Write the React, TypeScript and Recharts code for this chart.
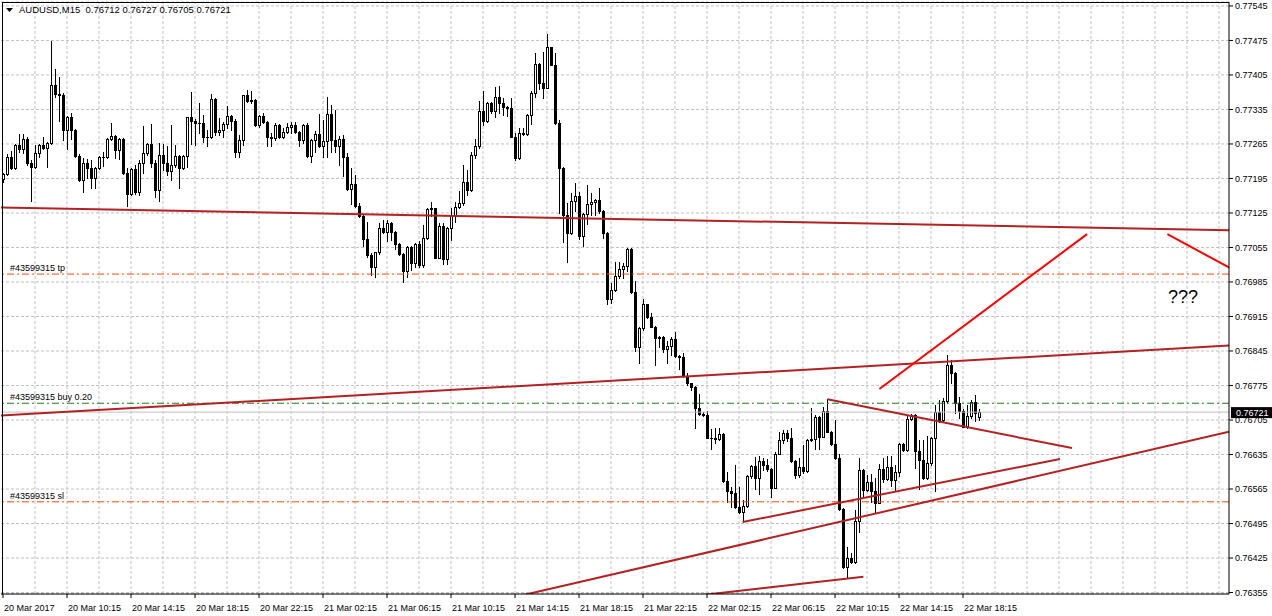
import React from "react";
import {
  ComposedChart,
  Bar,
  XAxis,
  YAxis,
  CartesianGrid,
  ReferenceLine,
  ReferenceDot,
} from "recharts";

const FONT = '"Liberation Sans", Arial, sans-serif';

// AUDUSD M15, one value per bar, from 20 Mar 06:15 to 22 Mar 19:15
const opens = [
  0.77193, 0.77204, 0.77238, 0.77216, 0.77263, 0.77255, 0.77275, 0.77226, 0.77219, 0.77246,
  0.77262, 0.77256, 0.77266, 0.77385, 0.77366, 0.77365, 0.77293, 0.7732, 0.77293, 0.77241,
  0.77192, 0.77226, 0.77216, 0.77195, 0.77216, 0.77238, 0.77239, 0.77275, 0.77281, 0.77253,
  0.77275, 0.77206, 0.77164, 0.77214, 0.77167, 0.77226, 0.77246, 0.77265, 0.77227, 0.77172,
  0.77243, 0.77226, 0.77211, 0.77222, 0.77241, 0.77216, 0.77241, 0.77319, 0.77312, 0.77308,
  0.77307, 0.7728, 0.77279, 0.77356, 0.77289, 0.77293, 0.77306, 0.77322, 0.77312, 0.77249,
  0.77273, 0.77364, 0.77353, 0.77355, 0.77304, 0.77322, 0.7731, 0.7728, 0.77277, 0.77304,
  0.77279, 0.7729, 0.773, 0.77304, 0.7729, 0.77273, 0.77304, 0.77241, 0.77273, 0.77285,
  0.7726, 0.7727, 0.77325, 0.77273, 0.7726, 0.77275, 0.77239, 0.77173, 0.77184, 0.7714,
  0.77119, 0.77072, 0.7704, 0.77015, 0.77045, 0.77094, 0.77087, 0.77105, 0.77087, 0.77062,
  0.77042, 0.77008, 0.77055, 0.77024, 0.77062, 0.7702, 0.77074, 0.77133, 0.77135, 0.77034,
  0.77099, 0.77031, 0.77094, 0.77121, 0.77137, 0.77145, 0.77187, 0.77172, 0.77243, 0.7726,
  0.77332, 0.77312, 0.77348, 0.77332, 0.77361, 0.77349, 0.77339, 0.77337, 0.7728, 0.77237,
  0.77287, 0.77286, 0.77324, 0.77368, 0.77427, 0.77389, 0.77379, 0.77461, 0.77426, 0.77307,
  0.77217, 0.77121, 0.77084, 0.77149, 0.7716, 0.77078, 0.77122, 0.77143, 0.77148, 0.77152,
  0.7713, 0.77085, 0.7695, 0.76969, 0.76997, 0.77011, 0.77018, 0.77051, 0.76965, 0.76854,
  0.76891, 0.7694, 0.76913, 0.76894, 0.76871, 0.76873, 0.76849, 0.76855, 0.76869, 0.76834,
  0.76832, 0.76794, 0.7678, 0.76771, 0.76729, 0.76717, 0.76716, 0.76669, 0.76668, 0.76667,
  0.76677, 0.76582, 0.7656, 0.76557, 0.76528, 0.76518, 0.7653, 0.76591, 0.76612, 0.76587,
  0.76622, 0.76614, 0.76605, 0.76568, 0.76637, 0.76664, 0.76678, 0.76668, 0.76622, 0.76593,
  0.76609, 0.76602, 0.76664, 0.76667, 0.76712, 0.76671, 0.76723, 0.76681, 0.76656, 0.76627,
  0.76524, 0.76407, 0.76426, 0.76416, 0.76501, 0.76604, 0.76563, 0.76579, 0.76561, 0.76537,
  0.76606, 0.76585, 0.7661, 0.76583, 0.766, 0.76656, 0.76644, 0.76707, 0.76715, 0.76643,
  0.76624, 0.76587, 0.76618, 0.76668, 0.76722, 0.76705, 0.76743, 0.76817, 0.768, 0.76739,
  0.76724, 0.76691, 0.76713, 0.76742, 0.76712,
];

const highs = [
  0.77206, 0.77245, 0.77251, 0.77265, 0.77285, 0.77285, 0.77279, 0.77233, 0.77262, 0.77265,
  0.77279, 0.77268, 0.77473, 0.77417, 0.774, 0.77368, 0.77322, 0.77327, 0.77295, 0.77245,
  0.77236, 0.77234, 0.77233, 0.77218, 0.77241, 0.77249, 0.77278, 0.77308, 0.77283, 0.77277,
  0.77277, 0.77216, 0.77216, 0.77222, 0.77233, 0.77302, 0.77267, 0.77306, 0.77233, 0.77266,
  0.77265, 0.7726, 0.77304, 0.77263, 0.77243, 0.77243, 0.7732, 0.7737, 0.77316, 0.77348,
  0.77324, 0.77293, 0.77366, 0.77358, 0.77317, 0.77309, 0.77341, 0.77324, 0.77316, 0.77283,
  0.77365, 0.77375, 0.77373, 0.77357, 0.77324, 0.77327, 0.77312, 0.77288, 0.77307, 0.77306,
  0.77297, 0.77307, 0.77309, 0.77309, 0.77291, 0.77305, 0.77308, 0.77275, 0.77291, 0.77325,
  0.77314, 0.77361, 0.77344, 0.77334, 0.77281, 0.77283, 0.77246, 0.77216, 0.77202, 0.77145,
  0.77121, 0.77107, 0.77043, 0.77046, 0.77104, 0.77111, 0.77111, 0.77106, 0.77089, 0.77065,
  0.77044, 0.77057, 0.77057, 0.77064, 0.77068, 0.77101, 0.77135, 0.77148, 0.77136, 0.77104,
  0.77105, 0.77096, 0.77135, 0.77148, 0.7717, 0.77222, 0.77212, 0.77249, 0.77275, 0.77352,
  0.77373, 0.77351, 0.7735, 0.7738, 0.77383, 0.77358, 0.77342, 0.77358, 0.77287, 0.77297,
  0.77297, 0.77325, 0.77373, 0.77449, 0.77429, 0.77452, 0.77488, 0.77462, 0.77449, 0.77314,
  0.77219, 0.77145, 0.77166, 0.77185, 0.77168, 0.77124, 0.77182, 0.77165, 0.77153, 0.77175,
  0.77132, 0.77087, 0.76982, 0.77026, 0.77026, 0.77024, 0.77053, 0.77053, 0.76987, 0.76893,
  0.7695, 0.76941, 0.76923, 0.76896, 0.76875, 0.76875, 0.76866, 0.76873, 0.76884, 0.76836,
  0.7684, 0.76801, 0.76781, 0.76773, 0.76758, 0.76722, 0.76723, 0.76686, 0.76688, 0.76688,
  0.76678, 0.76599, 0.7657, 0.76614, 0.7657, 0.76543, 0.76593, 0.76614, 0.76629, 0.76631,
  0.76627, 0.76625, 0.76607, 0.76641, 0.76681, 0.76685, 0.76685, 0.76688, 0.76624, 0.76627,
  0.76654, 0.76666, 0.76729, 0.76715, 0.76714, 0.76732, 0.76747, 0.76683, 0.76705, 0.76637,
  0.76526, 0.76447, 0.76435, 0.76522, 0.76627, 0.76606, 0.76593, 0.76596, 0.76587, 0.76615,
  0.76627, 0.76631, 0.76631, 0.76614, 0.76659, 0.76658, 0.76715, 0.76717, 0.76717, 0.76664,
  0.76664, 0.76673, 0.76671, 0.76736, 0.76745, 0.76749, 0.76836, 0.76827, 0.76802, 0.76752,
  0.76727, 0.76735, 0.76746, 0.76756, 0.76727,
];

const lows = [
  0.77187, 0.77202, 0.77214, 0.77214, 0.77249, 0.77247, 0.77222, 0.7715, 0.77216, 0.77239,
  0.77255, 0.77219, 0.77265, 0.77361, 0.77312, 0.77273, 0.77254, 0.77275, 0.77239, 0.77189,
  0.77168, 0.77195, 0.77176, 0.77175, 0.77214, 0.7722, 0.77236, 0.77273, 0.77236, 0.77234,
  0.77204, 0.77139, 0.77162, 0.77164, 0.77162, 0.77206, 0.77243, 0.77219, 0.77158, 0.7715,
  0.77212, 0.77202, 0.77192, 0.77219, 0.77175, 0.77214, 0.77219, 0.77265, 0.77262, 0.77287,
  0.77268, 0.7726, 0.77277, 0.77283, 0.77283, 0.7728, 0.77297, 0.77293, 0.77239, 0.77239,
  0.77262, 0.77351, 0.77349, 0.77302, 0.773, 0.77307, 0.7726, 0.7726, 0.77273, 0.77277,
  0.77277, 0.77287, 0.77287, 0.77288, 0.7726, 0.77266, 0.77239, 0.77229, 0.77249, 0.77258,
  0.77239, 0.77239, 0.77249, 0.77249, 0.77222, 0.772, 0.77171, 0.77143, 0.77138, 0.77117,
  0.77058, 0.77036, 0.76999, 0.76996, 0.77042, 0.77084, 0.77069, 0.7707, 0.77051, 0.7704,
  0.76984, 0.76996, 0.77009, 0.77016, 0.77015, 0.77015, 0.77072, 0.77119, 0.77033, 0.77033,
  0.77021, 0.77022, 0.7707, 0.77107, 0.77135, 0.77141, 0.77162, 0.7717, 0.77236, 0.77256,
  0.77304, 0.7731, 0.77327, 0.77319, 0.77327, 0.77324, 0.77322, 0.77279, 0.77233, 0.77235,
  0.77283, 0.77283, 0.77305, 0.77361, 0.77376, 0.77359, 0.77378, 0.77425, 0.77306, 0.77124,
  0.77067, 0.77026, 0.77082, 0.7713, 0.77072, 0.77058, 0.77103, 0.77121, 0.77121, 0.77124,
  0.77074, 0.7694, 0.76943, 0.76967, 0.76993, 0.76993, 0.77008, 0.76962, 0.76844, 0.7682,
  0.76888, 0.76911, 0.76893, 0.76817, 0.76854, 0.76842, 0.76821, 0.76837, 0.76832, 0.76808,
  0.76793, 0.76776, 0.76765, 0.76688, 0.76715, 0.76713, 0.76668, 0.76646, 0.76658, 0.76665,
  0.7658, 0.76539, 0.76528, 0.76526, 0.76516, 0.76499, 0.76528, 0.76587, 0.76566, 0.76555,
  0.76604, 0.76602, 0.76549, 0.76567, 0.76636, 0.76658, 0.76663, 0.7662, 0.76587, 0.7659,
  0.76598, 0.766, 0.76663, 0.76646, 0.76646, 0.7667, 0.7668, 0.76654, 0.76625, 0.76522,
  0.76404, 0.76386, 0.76414, 0.76414, 0.76478, 0.76546, 0.76561, 0.76539, 0.76517, 0.76536,
  0.7658, 0.76583, 0.76572, 0.7656, 0.76592, 0.76643, 0.76643, 0.76704, 0.76607, 0.76566,
  0.76585, 0.76585, 0.76614, 0.7656, 0.767, 0.767, 0.7674, 0.7678, 0.76719, 0.76709,
  0.7669, 0.76689, 0.76709, 0.76702, 0.76705,
];

const closes = [
  0.77204, 0.77238, 0.77216, 0.77263, 0.77255, 0.77275, 0.77226, 0.77219, 0.77246, 0.77262,
  0.77256, 0.77266, 0.77385, 0.77366, 0.77365, 0.77293, 0.7732, 0.77293, 0.77241, 0.77192,
  0.77226, 0.77216, 0.77195, 0.77216, 0.77238, 0.77239, 0.77275, 0.77281, 0.77253, 0.77275,
  0.77206, 0.77164, 0.77214, 0.77167, 0.77226, 0.77246, 0.77265, 0.77227, 0.77172, 0.77243,
  0.77226, 0.77211, 0.77222, 0.77241, 0.77216, 0.77241, 0.77319, 0.77312, 0.77308, 0.77307,
  0.7728, 0.77279, 0.77356, 0.77289, 0.77293, 0.77306, 0.77322, 0.77312, 0.77249, 0.77273,
  0.77364, 0.77353, 0.77355, 0.77304, 0.77322, 0.7731, 0.7728, 0.77277, 0.77304, 0.77279,
  0.7729, 0.773, 0.77304, 0.7729, 0.77273, 0.77304, 0.77241, 0.77273, 0.77285, 0.7726,
  0.7727, 0.77325, 0.77273, 0.7726, 0.77275, 0.77239, 0.77173, 0.77184, 0.7714, 0.77119,
  0.77072, 0.7704, 0.77015, 0.77045, 0.77094, 0.77087, 0.77105, 0.77087, 0.77062, 0.77042,
  0.77008, 0.77055, 0.77024, 0.77062, 0.7702, 0.77074, 0.77133, 0.77135, 0.77034, 0.77099,
  0.77031, 0.77094, 0.77121, 0.77137, 0.77145, 0.77187, 0.77172, 0.77243, 0.7726, 0.77332,
  0.77312, 0.77348, 0.77332, 0.77361, 0.77349, 0.77339, 0.77337, 0.7728, 0.77237, 0.77287,
  0.77286, 0.77324, 0.77368, 0.77427, 0.77389, 0.77379, 0.77461, 0.77426, 0.77307, 0.77217,
  0.77121, 0.77084, 0.77149, 0.7716, 0.77078, 0.77122, 0.77143, 0.77148, 0.77152, 0.7713,
  0.77085, 0.7695, 0.76969, 0.76997, 0.77011, 0.77018, 0.77051, 0.76965, 0.76854, 0.76891,
  0.7694, 0.76913, 0.76894, 0.76871, 0.76873, 0.76849, 0.76855, 0.76869, 0.76834, 0.76832,
  0.76794, 0.7678, 0.76771, 0.76729, 0.76717, 0.76716, 0.76669, 0.76668, 0.76667, 0.76677,
  0.76582, 0.7656, 0.76557, 0.76528, 0.76518, 0.7653, 0.76591, 0.76612, 0.76587, 0.76622,
  0.76614, 0.76605, 0.76568, 0.76637, 0.76664, 0.76678, 0.76668, 0.76622, 0.76593, 0.76609,
  0.76602, 0.76664, 0.76667, 0.76712, 0.76671, 0.76723, 0.76681, 0.76656, 0.76627, 0.76524,
  0.76407, 0.76426, 0.76416, 0.76501, 0.76604, 0.76563, 0.76579, 0.76561, 0.76537, 0.76606,
  0.76585, 0.7661, 0.76583, 0.766, 0.76656, 0.76644, 0.76707, 0.76715, 0.76643, 0.76624,
  0.76587, 0.76618, 0.76668, 0.76722, 0.76705, 0.76743, 0.76817, 0.768, 0.76739, 0.76724,
  0.76691, 0.76713, 0.76742, 0.76719, 0.76721,
];

// bottom axis labels and the bar they sit on
const timeLabels = [
  "20 Mar 2017", "20 Mar 10:15", "20 Mar 14:15", "20 Mar 18:15", "20 Mar 22:15",
  "21 Mar 02:15", "21 Mar 06:15", "21 Mar 10:15", "21 Mar 14:15", "21 Mar 18:15",
  "21 Mar 22:15", "22 Mar 02:15", "22 Mar 06:15", "22 Mar 10:15", "22 Mar 14:15",
  "22 Mar 18:15",
];
const labelBars = [0, 16, 32, 48, 64, 80, 96, 112, 128, 144, 160, 176, 192, 208, 224, 240];
const gridBars = [
  8, 16, 24, 32, 40, 48, 56, 64, 72, 80, 88, 96, 104, 112, 120, 128, 136, 144, 152, 160,
  168, 176, 184, 192, 200, 208, 216, 224, 232, 240, 248, 256, 264, 272, 280, 288, 296, 304,
];

const priceTicks = [
  0.77545, 0.77475, 0.77405, 0.77335, 0.77265, 0.77195, 0.77125, 0.77055, 0.76985,
  0.76915, 0.76845, 0.76775, 0.76705, 0.76635, 0.76565, 0.76495, 0.76425, 0.76355,
];

// drawn objects: [bar, price] end points
const trendLines = [
  { a: [-0.5, 0.77136], b: [306.5, 0.7709], color: "#b22222" },
  { a: [-0.5, 0.76714], b: [306.5, 0.76856], color: "#b22222" },
  { a: [120, 0.76331], b: [306.5, 0.76681], color: "#b22222" },
  { a: [184.9, 0.76498], b: [264.25, 0.76626], color: "#b22222" },
  { a: [206.1, 0.76747], b: [267.25, 0.76648], color: "#b22222" },
  { a: [150, 0.76327], b: [215.1, 0.76387], color: "#b22222" },
  { a: [219.1, 0.76768], b: [271, 0.77082], color: "#ff0000" },
  { a: [291.1, 0.77082], b: [306.6, 0.77014], color: "#ff0000" },
];

const orderLines = [
  { price: 0.77001, text: "#43599315 tp", color: "#ff4500" },
  { price: 0.76739, text: "#43599315 buy 0.20", color: "#1a7f1a" },
  { price: 0.76539, text: "#43599315 sl", color: "#ff4500" },
];
const bid = 0.76721;
const notes = [{ x: 291.25, y: 0.76973, text: "???" }];

const slots = 307;
const last = opens.length - 1;

const rows = Array.from({ length: slots }, (_, i) =>
  i < opens.length
    ? { i, o: opens[i], h: highs[i], l: lows[i], c: closes[i], range: [lows[i], highs[i]] }
    : { i, range: null }
);

function Candle(props: any) {
  const { x, y, width, height, payload } = props;
  if (!payload || payload.o == null) return null;
  const { o, h, l, c } = payload;
  const top0 = Math.min(y, y + height);
  const hh = Math.abs(height);
  const k = h > l ? hh / (h - l) : 0;
  const at = (v: number) => top0 + (h - v) * k;
  const cx = Math.floor(x + width / 2);
  const bt = Math.round(at(Math.max(o, c)));
  const bb = Math.round(at(Math.min(o, c)));
  const up = c >= o;
  return (
    <g>
      <line x1={cx + 0.5} x2={cx + 0.5} y1={Math.round(top0)} y2={Math.round(top0 + hh) + 1} stroke="#000" />
      {bb - bt < 1 ? (
        <line x1={cx - 1} x2={cx + 2} y1={bt + 0.5} y2={bt + 0.5} stroke="#000" />
      ) : (
        <rect x={cx - 0.5} y={bt + 0.5} width={2} height={bb - bt} fill={up ? "#fff" : "#000"} stroke="#000" />
      )}
    </g>
  );
}

function TimeTick(props: any) {
  const { x, y, payload } = props;
  const idx = labelBars.indexOf(payload.value);
  return (
    <text x={x + 1} y={y + 11} fontSize={9} fontFamily={FONT} fill="#000" textAnchor="start">
      {timeLabels[idx]}
    </text>
  );
}

const orderLabel = (text: string) => (props: any) => {
  const vb = props.viewBox;
  return (
    <text x={vb.x + 9} y={vb.y - 3} fontSize={9} fontFamily={FONT} fill="#000">
      {text}
    </text>
  );
};

const bidLabel = (props: any) => {
  const vb = props.viewBox;
  const right = vb.x + vb.width;
  return (
    <g>
      <rect x={right + 2} y={vb.y - 5} width={43} height={11} fill="#000" />
      <text x={right + 7} y={vb.y + 3.5} fontSize={9} fontFamily={FONT} fill="#fff">
        {bid.toFixed(5)}
      </text>
    </g>
  );
};

export default function App() {
  const title = `AUDUSD,M15  ${opens[last].toFixed(5)} ${highs[last].toFixed(5)} ${lows[last].toFixed(5)} ${closes[last].toFixed(5)}`;
  return (
    <div style={{ position: "absolute", left: 0, top: 0, width: 1272, height: 616, background: "#fff" }}>
      <ComposedChart
        width={1272}
        height={616}
        data={rows}
        margin={{ top: 2, right: 0, bottom: 0, left: 1 }}
        barCategoryGap={0}
      >
        <CartesianGrid yAxisId="p" vertical={false} stroke="#c0c0c0" strokeDasharray="3 2" />
        {gridBars.map((g) => (
          <ReferenceLine
            key={"g" + g}
            xAxisId="n"
            yAxisId="p"
            x={g}
            stroke="#c0c0c0"
            strokeDasharray="3 2"
            zIndex={-100}
          />
        ))}
        <XAxis
          xAxisId="c"
          dataKey="i"
          type="category"
          ticks={labelBars}
          interval={0}
          tick={<TimeTick />}
          tickSize={4}
          height={22}
          axisLine={{ stroke: "#000" }}
          tickLine={{ stroke: "#000" }}
        />
        <XAxis
          xAxisId="n"
          dataKey="i"
          type="number"
          domain={[-0.5, slots - 0.5]}
          ticks={gridBars}
          interval={0}
          allowDataOverflow
          hide
        />
        <YAxis
          yAxisId="p"
          orientation="right"
          domain={[0.76352, 0.77553]}
          ticks={priceTicks}
          interval={0}
          allowDataOverflow
          width={43}
          tickSize={4}
          tickFormatter={(v: number) => v.toFixed(5)}
          tick={{ fill: "#000", fontSize: 9, fontFamily: FONT }}
          axisLine={{ stroke: "#000" }}
          tickLine={{ stroke: "#000" }}
        />
        <ReferenceLine xAxisId="n" yAxisId="p" y={bid} stroke="#c0c0c0" label={bidLabel} ifOverflow="visible" />
        {orderLines.map((ol) => (
          <ReferenceLine
            key={ol.text}
            xAxisId="n"
            yAxisId="p"
            y={ol.price}
            stroke={ol.color}
            strokeDasharray="7 3 2 3"
            label={orderLabel(ol.text)}
          />
        ))}
        <Bar xAxisId="c" yAxisId="p" dataKey="range" shape={<Candle />} isAnimationActive={false} />
        {trendLines.map((t, i) => (
          <ReferenceLine
            key={i}
            xAxisId="n"
            yAxisId="p"
            segment={[
              { x: t.a[0], y: t.a[1] },
              { x: t.b[0], y: t.b[1] },
            ]}
            stroke={t.color}
            strokeWidth={2}
            ifOverflow="hidden"
          />
        ))}
        {notes.map((n) => (
          <ReferenceDot
            key={n.text}
            xAxisId="n"
            yAxisId="p"
            x={n.x}
            y={n.y}
            r={0}
            ifOverflow="visible"
            shape={(p: any) => (
              <text x={p.cx} y={p.cy + 15} fontSize={18} fontFamily={FONT} fill="#000">
                {n.text}
              </text>
            )}
          />
        ))}
      </ComposedChart>
      <div
        style={{
          position: "absolute",
          left: 2,
          top: 2,
          width: 1227,
          height: 592,
          borderLeft: "1px solid #000",
          borderTop: "1px solid #000",
          boxSizing: "border-box",
          pointerEvents: "none",
        }}
      />
      <div
        style={{
          position: "absolute",
          left: 6,
          top: 4,
          fontFamily: FONT,
          fontSize: 9.5,
          color: "#000",
          whiteSpace: "pre",
          lineHeight: "12px",
          display: "flex",
          alignItems: "center",
        }}
      >
        <svg width={8} height={6} style={{ marginRight: 5 }}>
          <polygon points="0,1 7,1 3.5,5" fill="#000" />
        </svg>
        {title}
      </div>
    </div>
  );
}
